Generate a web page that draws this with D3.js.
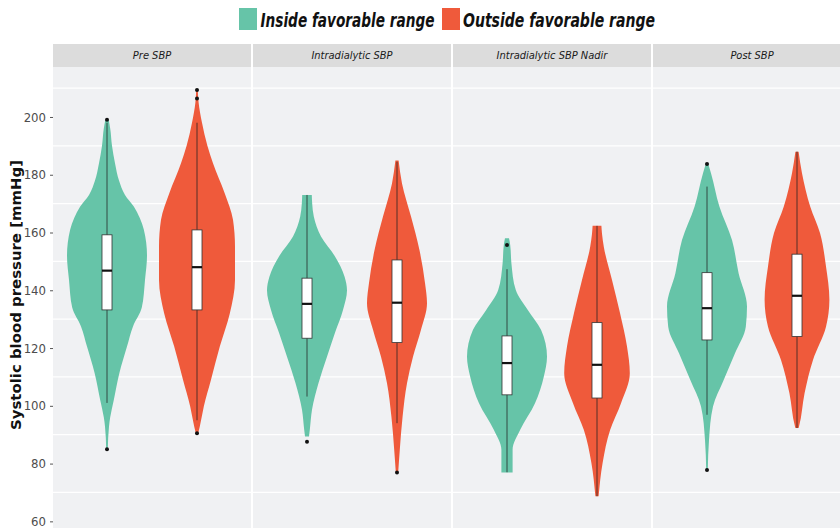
<!DOCTYPE html>
<html>
<head>
<meta charset="utf-8">
<script src="https://cdn.jsdelivr.net/npm/d3@7"></script>
<style>
  body { margin: 0; background: #fff; }
  text { font-family: "Liberation Sans Narrow", "DejaVu Sans Condensed", "Liberation Sans", sans-serif; }
</style>
</head>
<body>
<svg id="chart" width="840" height="528"></svg>
<script>
// panels and groups
const panels = ["Pre SBP", "Intradialytic SBP", "Intradialytic SBP Nadir", "Post SBP"];
const groups = ["Inside favorable range", "Outside favorable range"];
const yTicks = [60, 80, 100, 120, 140, 160, 180, 200];
const yMinor = [70, 90, 110, 130, 150, 170, 190, 210];

// violin outlines: [systolic value, relative density]
const preInside = [[199,0.04],[196,0.08],[190,0.125],[184,0.2],[178,0.3],[173,0.45],[169,0.67],[165,0.82],[161,0.92],[152,1.0],[143.6,0.95],[134,0.87],[127.5,0.65],[120.5,0.5],[111.4,0.31],[102,0.17],[96,0.08],[92.8,0.05],[85,0.02]];
const preOutside = [[209.3,0.02],[205,0.04],[198,0.125],[190,0.26],[184,0.4],[173.7,0.69],[164.4,0.9],[155,0.95],[143.6,0.95],[132,0.82],[120.5,0.57],[109,0.35],[99.8,0.17],[92.8,0.07],[90.5,0.03]];
const intraInside = [[173,0.12],[170,0.13],[165.5,0.17],[158.6,0.35],[151.7,0.7],[144.7,0.94],[140,1.0],[133.2,0.9],[125.3,0.7],[117,0.5],[108,0.29],[98.6,0.125],[91.7,0.07],[89.4,0.05]];
const intraOutside = [[184.9,0.04],[177,0.125],[165.5,0.35],[154,0.56],[142.5,0.7],[135.5,0.75],[126.3,0.6],[117,0.4],[107.8,0.25],[96.3,0.14],[84.8,0.07],[77,0.03]];
const nadirInside = [[158,0.05],[155.7,0.08],[149.4,0.11],[140.1,0.22],[133.2,0.52],[126.3,0.85],[117,1.0],[110.1,0.92],[100.9,0.7],[91.7,0.33],[84.8,0.14],[80,0.14],[76.9,0.14]];
const nadirOutside = [[162.3,0.11],[159.6,0.125],[155.1,0.17],[143.6,0.375],[132.1,0.575],[120.5,0.75],[111.3,0.82],[100.9,0.6],[91.7,0.33],[80.2,0.14],[68.7,0.04]];
const postInside = [[183.7,0.03],[180.5,0.1],[169,0.31],[157.4,0.625],[145.9,0.79],[134.4,1.0],[127.4,0.97],[118.2,0.7],[109,0.42],[99.8,0.15],[88.2,0.05],[77.8,0.02]];
const postOutside = [[188,0.04],[180.5,0.125],[169,0.33],[159.8,0.575],[148.2,0.725],[136.7,0.81],[127.4,0.725],[115.9,0.4],[104.4,0.19],[92.8,0.05],[92.3,0.04]];

// box plot stats, one entry per panel
const q1Inside = [133.2, 123.4, 103.8, 122.8];
const medInside = [146.8, 135.3, 114.8, 133.8];
const q3Inside = [159.2, 144.2, 124.2, 146.1];
const lowInside = [101, 103.2, 77, 96.9];
const highInside = [198, 173, 147.3, 175.9];
const outInside = [[199, 85], [87.6], [155.7], [183.7, 77.8]];

const q1Outside = [133.2, 121.9, 102.7, 124];
const medOutside = [148, 135.7, 114.2, 138.1];
const q3Outside = [160.9, 150.5, 128.8, 152.5];
const lowOutside = [95, 94, 68.7, 92.3];
const highOutside = [198, 184.5, 162.3, 188];
const outOutside = [[206.4, 209.3, 90.5], [76.9], [], []];

const violins = [
  [preInside, preOutside],
  [intraInside, intraOutside],
  [nadirInside, nadirOutside],
  [postInside, postOutside]
];
const boxes = [
  {q1: q1Inside, med: medInside, q3: q3Inside, lo: lowInside, hi: highInside, out: outInside},
  {q1: q1Outside, med: medOutside, q3: q3Outside, lo: lowOutside, hi: highOutside, out: outOutside}
];

const colors = ["#66c4a8", "#ef5a3b"];

const svg = d3.select("#chart");
const plotTop = 67, plotBottom = 528, plotLeft = 53;

const y = d3.scaleLinear().domain([57.7, 217.3]).range([plotBottom, plotTop]);
const xPanel = d3.scaleBand().domain(panels).range([plotLeft, 851]).paddingInner(0.01);
const xGroup = d3.scaleBand().domain(groups).range([0, xPanel.bandwidth()]).padding(0.2);
const w = d3.scaleLinear().domain([0, 1]).range([0, 40]);

// legend
const legend = svg.append("g");
const legendPos = [[239, 260.5, 174], [442, 463, 192]];
groups.forEach((g, i) => {
  legend.append("rect")
    .attr("x", legendPos[i][0]).attr("y", 8)
    .attr("width", 18).attr("height", 22)
    .attr("fill", colors[i]);
  legend.append("text")
    .attr("x", legendPos[i][1]).attr("y", 27)
    .attr("font-size", 19).attr("font-weight", "bold").attr("font-style", "italic")
    .attr("fill", "#111")
    .attr("textLength", legendPos[i][2]).attr("lengthAdjust", "spacingAndGlyphs")
    .text(g);
});

// panels
const panel = svg.selectAll("g.panel")
  .data(panels)
  .join("g")
  .attr("class", "panel")
  .attr("transform", d => `translate(${xPanel(d)},0)`);

panel.append("rect")
  .attr("x", 0).attr("y", 44)
  .attr("width", xPanel.bandwidth()).attr("height", plotTop - 44)
  .attr("fill", "#dcdcdc");

panel.append("text")
  .attr("x", xPanel.bandwidth() / 2).attr("y", 59)
  .attr("text-anchor", "middle")
  .attr("font-size", 11).attr("font-style", "italic")
  .attr("fill", "#1a1a1a")
  .text(d => d);

panel.append("rect")
  .attr("x", 0).attr("y", plotTop)
  .attr("width", xPanel.bandwidth()).attr("height", plotBottom - plotTop)
  .attr("fill", "#f0f1f3");

panel.selectAll("line.minor")
  .data(yMinor)
  .join("line")
  .attr("class", "minor")
  .attr("x1", 0).attr("x2", xPanel.bandwidth())
  .attr("y1", d => y(d)).attr("y2", d => y(d))
  .attr("stroke", "#fff").attr("stroke-width", 1.2);

const area = d3.area()
  .curve(d3.curveMonotoneY)
  .y(d => y(d[0]));

panel.each(function(p, pi) {
  const gp = d3.select(this);
  groups.forEach((g, gi) => {
    const cx = xGroup(g) + xGroup.bandwidth() / 2;
    const b = boxes[gi];
    gp.append("path")
      .datum(violins[pi][gi])
      .attr("d", area.x0(d => cx - w(d[1])).x1(d => cx + w(d[1])))
      .attr("fill", colors[gi]);
    gp.append("line")
      .attr("x1", cx).attr("x2", cx)
      .attr("y1", y(b.hi[pi])).attr("y2", y(b.lo[pi]))
      .attr("stroke", "#222").attr("stroke-opacity", 0.75).attr("stroke-width", 1);
    gp.append("rect")
      .attr("x", cx - 5).attr("width", 10)
      .attr("y", y(b.q3[pi])).attr("height", y(b.q1[pi]) - y(b.q3[pi]))
      .attr("fill", "#fff").attr("stroke", "#333").attr("stroke-width", 0.8);
    gp.append("line")
      .attr("x1", cx - 5).attr("x2", cx + 5)
      .attr("y1", y(b.med[pi])).attr("y2", y(b.med[pi]))
      .attr("stroke", "#111").attr("stroke-width", 2.2);
    gp.selectAll(null)
      .data(b.out[pi])
      .join("circle")
      .attr("cx", cx).attr("cy", d => y(d))
      .attr("r", 2).attr("fill", "#111");
  });
});

// y axis
const axis = svg.append("g")
  .attr("transform", `translate(${plotLeft},0)`)
  .call(d3.axisLeft(y).tickValues(yTicks).tickSize(3).tickPadding(4));
axis.select(".domain").remove();
axis.selectAll(".tick line").attr("stroke", "#555");
axis.selectAll(".tick text")
  .attr("font-size", 13).attr("fill", "#4d4d4d")
  .style("font-family", "'Liberation Sans Narrow', 'DejaVu Sans Condensed', sans-serif");

svg.append("text")
  .attr("transform", `translate(21,${(160 + 430) / 2}) rotate(-90)`)
  .attr("text-anchor", "middle")
  .attr("font-size", 14).attr("font-weight", "bold")
  .attr("fill", "#111")
  .attr("textLength", 270).attr("lengthAdjust", "spacingAndGlyphs")
  .text("Systolic blood pressure [mmHg]");
</script>
</body>
</html>
